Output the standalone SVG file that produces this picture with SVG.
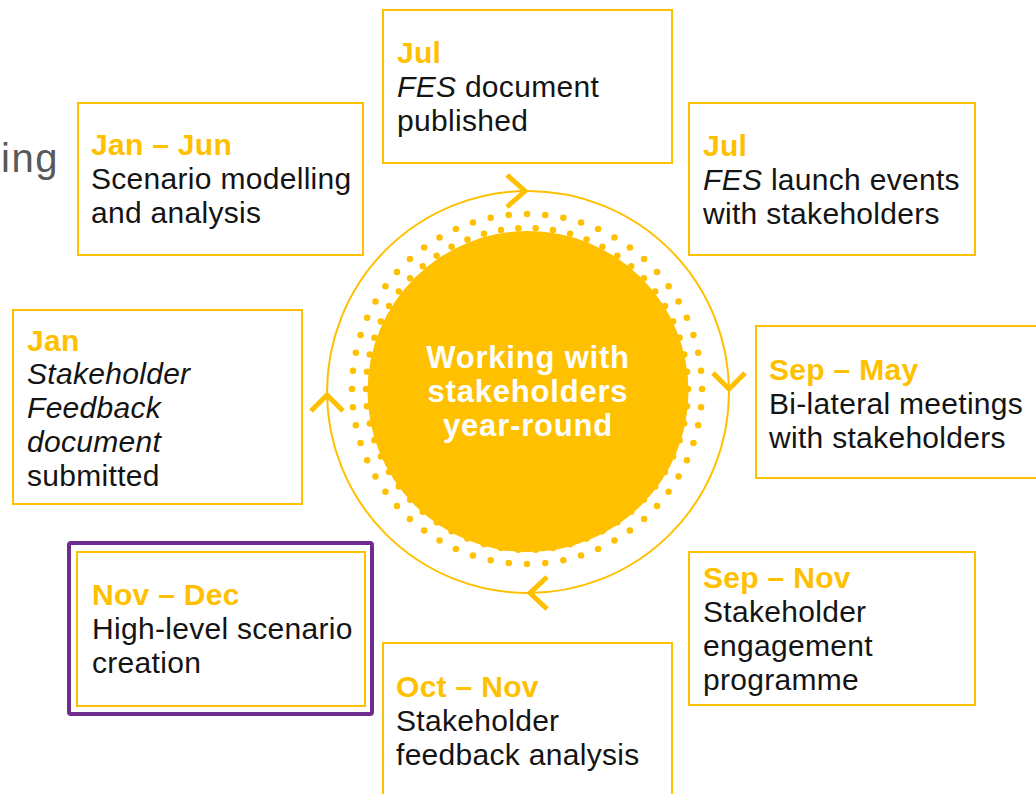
<svg xmlns="http://www.w3.org/2000/svg" width="1036" height="794" viewBox="0 0 1036 794">
  <style>
    .box { fill: #ffffff; stroke: #FFC000; stroke-width: 2; }
    .t { font-family: "Liberation Sans", Arial, sans-serif; font-size: 30px; letter-spacing: 0.3px; fill: #141414; }
    .h { font-weight: bold; fill: #FFC000; }
    .i { font-style: italic; }
    .chev { fill: none; stroke: #FFC000; stroke-width: 5; stroke-linejoin: miter; }
    .ring { fill: none; stroke: #FFC000; stroke-width: 2; }
    .dots { fill: none; stroke: #FFC000; stroke-width: 6.5; stroke-linecap: round; stroke-dasharray: 0 1; }
    .ctr { font-family: "Liberation Sans", Arial, sans-serif; font-size: 31px; font-weight: bold; letter-spacing: 0.8px; fill: #ffffff; text-anchor: middle; }
  </style>
  <rect width="1036" height="794" fill="#ffffff"/>

  <text x="1" y="172" font-family="Liberation Sans, Arial, sans-serif" font-size="40" letter-spacing="1.5" fill="#595959">ing</text>

  <g id="cycle">
    <circle cx="528" cy="392" r="201" class="ring"/>
    <circle cx="527" cy="389" r="175" class="dots" pathLength="60"/>
    <circle cx="527" cy="389" r="161" class="dots" pathLength="58"/>
    <circle cx="528" cy="391.5" r="160.5" fill="#FFC000"/>
    <text class="ctr" x="528" y="368">Working with</text>
    <text class="ctr" x="528" y="402">stakeholders</text>
    <text class="ctr" x="528" y="436">year-round</text>
  </g>

  <g id="connectors">
    <polyline class="chev" points="507,175 525,191 507,207"/>
    <polyline class="chev" points="713,373 729,389 745,373"/>
    <polyline class="chev" points="547,577 530,593 547,609"/>
    <polyline class="chev" points="311,411 327,395 343,411"/>
  </g>

  <g id="jul-published">
    <rect class="box" x="383" y="10" width="289" height="153"/>
    <text class="t h" x="397" y="63">Jul</text>
    <text class="t" x="397" y="97"><tspan class="i">FES</tspan> document</text>
    <text class="t" x="397" y="131">published</text>
  </g>

  <g id="jul-launch">
    <rect class="box" x="689" y="103" width="286" height="152"/>
    <text class="t h" x="703" y="156">Jul</text>
    <text class="t" x="703" y="190"><tspan class="i">FES</tspan> launch events</text>
    <text class="t" x="703" y="224">with stakeholders</text>
  </g>

  <g id="sep-may">
    <rect class="box" x="756" y="326" width="292" height="152"/>
    <text class="t h" x="769" y="380">Sep – May</text>
    <text class="t" x="769" y="414">Bi-lateral meetings</text>
    <text class="t" x="769" y="448">with stakeholders</text>
  </g>

  <g id="sep-nov">
    <rect class="box" x="689" y="552" width="286" height="153"/>
    <text class="t h" x="703" y="588">Sep – Nov</text>
    <text class="t" x="703" y="622">Stakeholder</text>
    <text class="t" x="703" y="656">engagement</text>
    <text class="t" x="703" y="690">programme</text>
  </g>

  <g id="oct-nov">
    <rect class="box" x="383" y="643" width="289" height="162"/>
    <text class="t h" x="396" y="697">Oct – Nov</text>
    <text class="t" x="396" y="731">Stakeholder</text>
    <text class="t" x="396" y="765">feedback analysis</text>
  </g>

  <g id="nov-dec">
    <rect x="69" y="543" width="303" height="171" rx="2" fill="none" stroke="#6E2C91" stroke-width="4"/>
    <rect class="box" x="77" y="552" width="288" height="154"/>
    <text class="t h" x="92" y="605">Nov – Dec</text>
    <text class="t" x="92" y="639">High-level scenario</text>
    <text class="t" x="92" y="673">creation</text>
  </g>

  <g id="jan">
    <rect class="box" x="13" y="310" width="289" height="194"/>
    <text class="t h" x="27" y="351">Jan</text>
    <text class="t i" x="27" y="384">Stakeholder</text>
    <text class="t i" x="27" y="418">Feedback</text>
    <text class="t i" x="27" y="452">document</text>
    <text class="t" x="27" y="486">submitted</text>
  </g>

  <g id="jan-jun">
    <rect class="box" x="78" y="103" width="285" height="152"/>
    <text class="t h" x="91" y="155">Jan – Jun</text>
    <text class="t" x="91" y="189">Scenario modelling</text>
    <text class="t" x="91" y="223">and analysis</text>
  </g>
</svg>
